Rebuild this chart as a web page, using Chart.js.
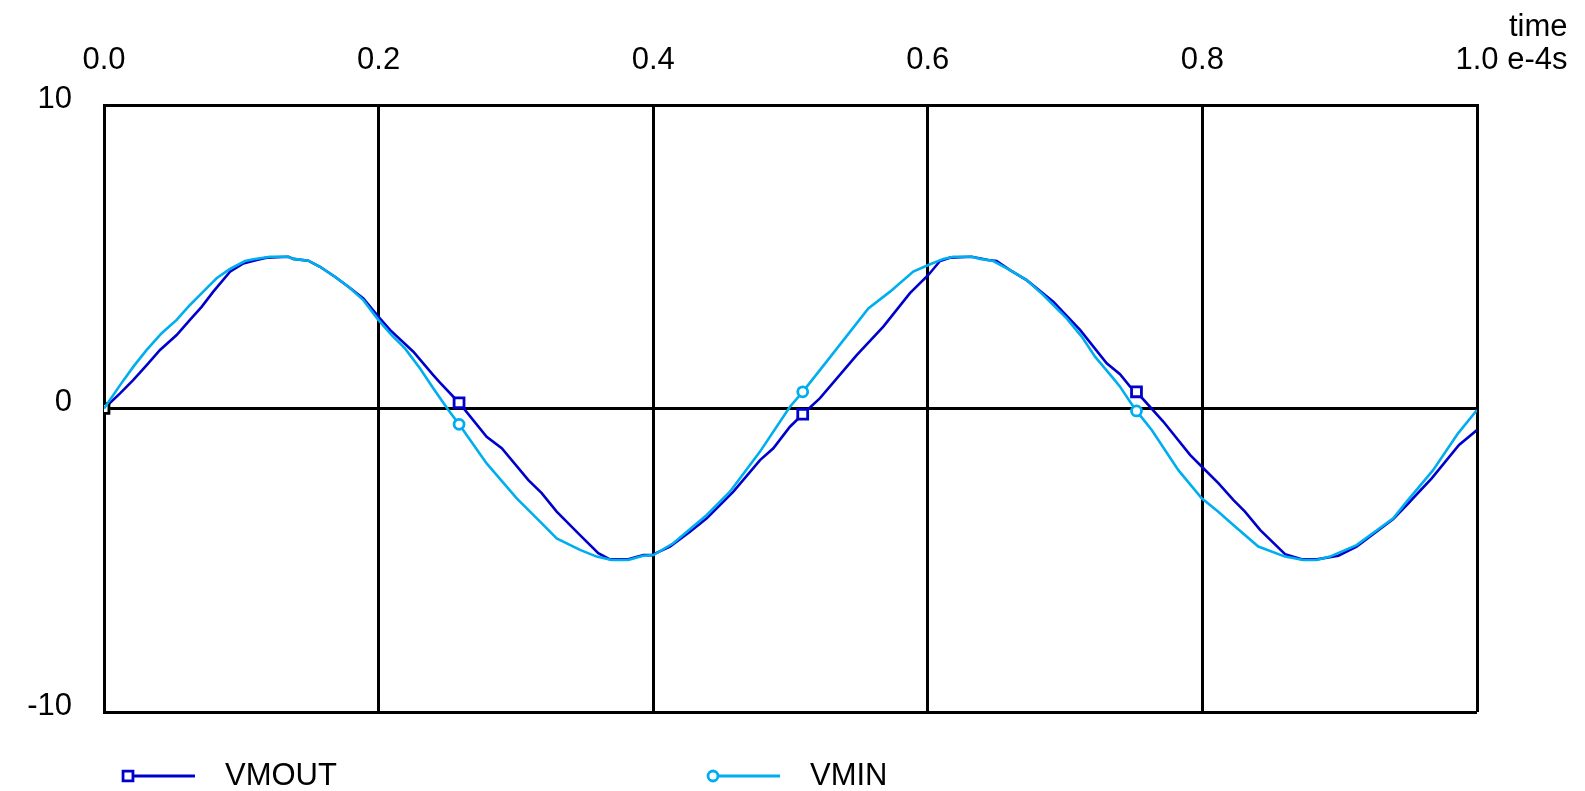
<!DOCTYPE html>
<html>
<head>
<meta charset="utf-8">
<script src="https://cdn.jsdelivr.net/npm/chart.js@4/dist/chart.umd.min.js"></script>
<style>
  html, body { margin: 0; padding: 0; background: #fff; }
  #wrap { width: 1585px; height: 791px; position: relative; }
</style>
</head>
<body>
<div id="wrap"><canvas id="c" width="1585" height="791"></canvas></div>
<script>
// ---- data (time in units of 1e-4 s, voltage in V) ----
const seriesNames = ['VMOUT', 'VMIN'];
const xTickValues = [0.0, 0.2, 0.4, 0.6, 0.8, 1.0];
const yTickValues = [-10, 0, 10];
const xUnitText = 'e-4s';
const xAxisTitle = 'time';
const markerTimes = [0, 0.2586, 0.5089, 0.752];

const vmoutT = [0, 0.0117, 0.0214, 0.0311, 0.0408, 0.0529, 0.0626, 0.0711, 0.0796, 0.0918,
  0.1015, 0.1112, 0.1185, 0.1343, 0.1379, 0.1488, 0.1573, 0.1682, 0.178, 0.1889,
  0.1998, 0.2083, 0.2253, 0.2398, 0.2447, 0.2586, 0.2787, 0.2897, 0.3091, 0.3188,
  0.3297, 0.3467, 0.36, 0.3685, 0.3818, 0.3928, 0.3988, 0.4122, 0.4268, 0.439,
  0.4584, 0.4778, 0.4875, 0.4996, 0.5089, 0.5215, 0.5482, 0.5676, 0.587, 0.6004,
  0.6089, 0.6162, 0.6319, 0.6441, 0.6501, 0.6599, 0.672, 0.6914, 0.7109, 0.7303,
  0.74, 0.7473, 0.752, 0.7715, 0.791, 0.8007, 0.8116, 0.8225, 0.831, 0.842,
  0.8602, 0.8723, 0.8832, 0.899, 0.9123, 0.939, 0.9488, 0.967, 0.9869, 1.0];
const vmoutV = [0, 0.50, 0.94, 1.43, 1.93, 2.42, 2.92, 3.35, 3.85, 4.51,
  4.78, 4.89, 4.97, 5.00, 4.93, 4.87, 4.67, 4.34, 4.01, 3.63,
  3.03, 2.59, 1.87, 1.10, 0.85, 0.19, -0.93, -1.31, -2.36, -2.79,
  -3.40, -4.17, -4.77, -4.97, -4.97, -4.83, -4.83, -4.55, -4.06, -3.62,
  -2.74, -1.70, -1.31, -0.60, -0.19, 0.34, 1.76, 2.70, 3.80, 4.40,
  4.86, 4.97, 5.00, 4.89, 4.86, 4.56, 4.23, 3.52, 2.59, 1.49,
  1.13, 0.72, 0.55, -0.43, -1.53, -1.97, -2.46, -3.01, -3.40, -4.00,
  -4.80, -4.97, -4.97, -4.85, -4.55, -3.64, -3.18, -2.30, -1.20, -0.71];

const vminT = [0, 0.0117, 0.0214, 0.0311, 0.042, 0.0529, 0.0626, 0.0723, 0.082, 0.0918,
  0.1027, 0.1088, 0.1209, 0.1343, 0.1379, 0.1488, 0.1573, 0.1682, 0.178, 0.1889,
  0.1998, 0.2095, 0.2192, 0.2302, 0.2398, 0.2508, 0.2586, 0.2787, 0.3006, 0.3176,
  0.3297, 0.3467, 0.3588, 0.3697, 0.3818, 0.3928, 0.4001, 0.4146, 0.439, 0.4559,
  0.4778, 0.4996, 0.5089, 0.53, 0.5567, 0.5725, 0.5894, 0.6004, 0.6113, 0.6186,
  0.6319, 0.638, 0.6477, 0.6599, 0.672, 0.6841, 0.7011, 0.7121, 0.7218, 0.7351,
  0.74, 0.7473, 0.752, 0.7631, 0.7825, 0.7995, 0.8116, 0.8225, 0.8407, 0.8602,
  0.8735, 0.8832, 0.8929, 0.9123, 0.939, 0.9488, 0.968, 0.9862, 1.0];
const vminV = [0, 0.77, 1.38, 1.93, 2.48, 2.92, 3.41, 3.85, 4.29, 4.60,
  4.86, 4.92, 5.00, 5.00, 4.93, 4.87, 4.67, 4.34, 4.01, 3.57,
  2.92, 2.42, 1.98, 1.32, 0.67, -0.05, -0.52, -1.81, -2.96, -3.73,
  -4.28, -4.66, -4.88, -4.99, -4.99, -4.85, -4.83, -4.44, -3.51, -2.74,
  -1.42, 0.06, 0.55, 1.76, 3.30, 3.85, 4.51, 4.73, 4.93, 5.00,
  5.00, 4.93, 4.86, 4.56, 4.23, 3.74, 2.97, 2.37, 1.71, 0.99,
  0.72, 0.22, -0.08, -0.71, -2.03, -2.96, -3.40, -3.84, -4.55, -4.88,
  -4.99, -4.99, -4.88, -4.50, -3.62, -3.07, -2.03, -0.82, -0.05];

// ---- styles ----
const FONT_FAMILY = "'Liberation Sans', Arial, Helvetica, sans-serif";
const FONT_SIZE = 31;
const COL_OUT = '#0000CD';
const COL_IN = '#00AEEF';
const X_TICK_PAD = 26;

const toPoints = (ts, vs) => ts.map((t, i) => ({ x: t, y: vs[i] }));
const isMarker = ctx => ctx.raw && markerTimes.includes(ctx.raw.x);

const datasets = [
  {
    label: seriesNames[1],
    data: toPoints(vminT, vminV),
    borderColor: COL_IN,
    backgroundColor: '#fff',
    borderWidth: 2.6,
    pointStyle: 'circle',
    pointRadius: ctx => isMarker(ctx) && ctx.raw.x !== 0 ? 5 : 0,
    pointBorderWidth: 2.8,
    pointBorderColor: COL_IN,
    pointBackgroundColor: '#fff',
    order: 0
  },
  {
    label: seriesNames[0],
    data: toPoints(vmoutT, vmoutV),
    borderColor: COL_OUT,
    backgroundColor: '#fff',
    borderWidth: 2.6,
    pointStyle: 'rect',
    pointRadius: ctx => isMarker(ctx) ? 7 : 0,
    pointBorderWidth: 2.8,
    pointBorderColor: ctx => (ctx.raw && ctx.raw.x === 0) ? '#000' : COL_OUT,
    pointBackgroundColor: '#fff',
    order: 1
  }
];

const legendItems = [
  { name: seriesNames[0], color: COL_OUT, style: 'rect', radius: 7, x: 128 },
  { name: seriesNames[1], color: COL_IN, style: 'circle', radius: 5, x: 713 }
];

const extras = {
  id: 'extras',
  afterDraw(chart) {
    const ctx = chart.ctx;
    const xs = chart.scales.x;
    ctx.save();
    ctx.font = FONT_SIZE + 'px ' + FONT_FAMILY;
    ctx.fillStyle = '#000';
    // unit and axis title next to last x tick label
    const lastVal = xTickValues[xTickValues.length - 1];
    const lastX = xs.getPixelForValue(lastVal);
    const lastLabel = lastVal.toFixed(1);
    const midY = xs.bottom - X_TICK_PAD - FONT_SIZE * 1.2 / 2;
    ctx.textBaseline = 'middle';
    ctx.textAlign = 'left';
    const unitX = lastX + ctx.measureText(lastLabel).width / 2 + ctx.measureText(' ').width;
    ctx.fillText(xUnitText, unitX, midY);
    const unitEnd = unitX + ctx.measureText(xUnitText).width;
    ctx.textAlign = 'right';
    ctx.fillText(xAxisTitle, unitEnd, midY - 33);
    // legend
    const ly = 776;
    legendItems.forEach(it => {
      ctx.strokeStyle = it.color;
      ctx.lineWidth = 3;
      ctx.beginPath();
      ctx.moveTo(it.x, ly);
      ctx.lineTo(it.x + 67, ly);
      ctx.stroke();
      ctx.fillStyle = '#fff';
      ctx.lineWidth = 2.8;
      Chart.helpers.drawPoint(ctx, { pointStyle: it.style, radius: it.radius, borderWidth: 2.8 }, it.x, ly);
      ctx.fillStyle = '#000';
      ctx.textAlign = 'left';
      ctx.textBaseline = 'middle';
      ctx.fillText(it.name, it.x + 97, ly);
    });
    ctx.restore();
  }
};

new Chart(document.getElementById('c'), {
  type: 'line',
  data: { datasets },
  plugins: [extras],
  options: {
    responsive: false,
    animation: false,
    devicePixelRatio: 1,
    layout: { padding: { left: 0, top: 0, right: 108, bottom: 79 } },
    plugins: { legend: { display: false }, tooltip: { enabled: false } },
    elements: { line: { tension: 0 } },
    scales: {
      x: {
        type: 'linear',
        position: 'top',
        min: 0, max: 1,
        afterBuildTicks: s => { s.ticks = xTickValues.map(v => ({ value: v })); },
        afterFit: s => { s.height = 105; },
        ticks: {
          callback: v => Number(v).toFixed(1),
          font: { family: FONT_FAMILY, size: FONT_SIZE },
          color: '#000',
          padding: X_TICK_PAD,
          maxRotation: 0,
          autoSkip: false
        },
        grid: { color: '#000', lineWidth: 3, drawTicks: false },
        border: { display: true, color: '#000', width: 3 }
      },
      y: {
        type: 'linear',
        position: 'left',
        min: -10, max: 10,
        afterBuildTicks: s => { s.ticks = yTickValues.map(v => ({ value: v })); },
        afterFit: s => { s.width = 104; },
        ticks: {
          callback: v => String(v),
          font: { family: FONT_FAMILY, size: FONT_SIZE },
          color: '#000',
          padding: 32,
          labelOffset: -6,
          autoSkip: false
        },
        grid: { color: '#000', lineWidth: 3, drawTicks: false },
        border: { display: true, color: '#000', width: 3 }
      }
    }
  }
});
</script>
</body>
</html>
